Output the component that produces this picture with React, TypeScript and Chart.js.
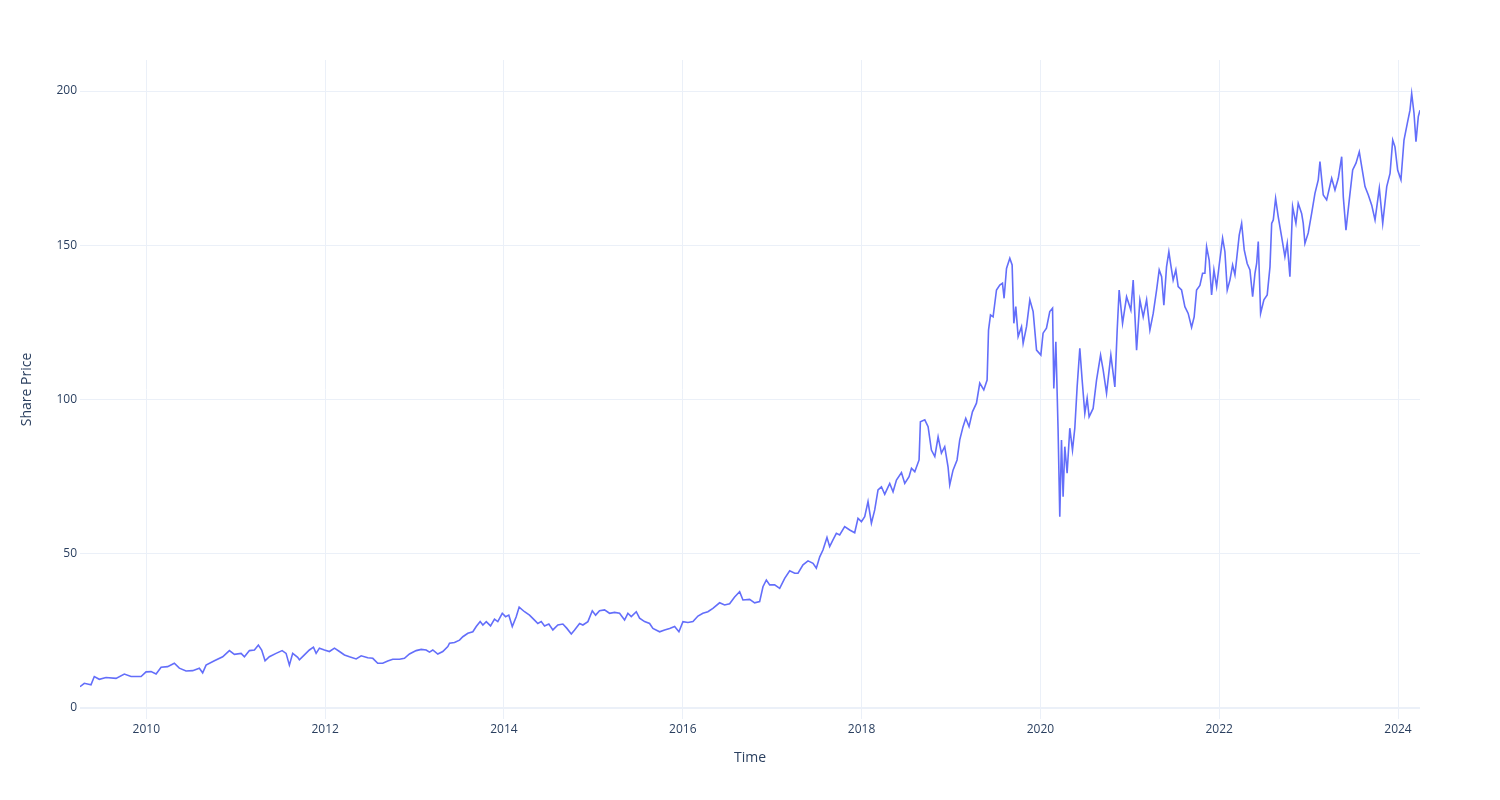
import React, { useEffect, useRef } from "react";
import { Chart, registerables } from "chart.js";

Chart.register(...registerables);

// Decimal-year positions of the sampled points
const dates: number[] = [
  2009.258, 2009.306, 2009.381, 2009.418, 2009.474, 2009.549, 2009.661, 2009.754, 2009.829, 2009.941,
  2009.997, 2010.053, 2010.109, 2010.165, 2010.238, 2010.313, 2010.369, 2010.444, 2010.518, 2010.593,
  2010.630, 2010.668, 2010.761, 2010.854, 2010.929, 2010.985, 2011.060, 2011.097, 2011.153, 2011.209,
  2011.253, 2011.290, 2011.328, 2011.376, 2011.451, 2011.519, 2011.563, 2011.600, 2011.637, 2011.693,
  2011.712, 2011.768, 2011.824, 2011.869, 2011.899, 2011.936, 2011.992, 2012.048, 2012.104, 2012.160,
  2012.216, 2012.272, 2012.347, 2012.403, 2012.477, 2012.533, 2012.588, 2012.644, 2012.700, 2012.756,
  2012.831, 2012.887, 2012.943, 2013.018, 2013.074, 2013.130, 2013.167, 2013.204, 2013.260, 2013.316,
  2013.372, 2013.391, 2013.447, 2013.503, 2013.540, 2013.596, 2013.652, 2013.690, 2013.734, 2013.764,
  2013.802, 2013.850, 2013.894, 2013.931, 2013.981, 2014.018, 2014.054, 2014.093, 2014.137, 2014.170,
  2014.230, 2014.286, 2014.342, 2014.379, 2014.417, 2014.454, 2014.502, 2014.547, 2014.603, 2014.659,
  2014.704, 2014.753, 2014.790, 2014.846, 2014.883, 2014.939, 2014.988, 2015.025, 2015.069, 2015.125,
  2015.181, 2015.237, 2015.293, 2015.349, 2015.386, 2015.424, 2015.480, 2015.517, 2015.573, 2015.629,
  2015.666, 2015.741, 2015.797, 2015.853, 2015.909, 2015.957, 2016.002, 2016.058, 2016.114, 2016.170,
  2016.225, 2016.281, 2016.337, 2016.412, 2016.468, 2016.524, 2016.580, 2016.636, 2016.673, 2016.748,
  2016.804, 2016.860, 2016.897, 2016.935, 2016.972, 2017.028, 2017.084, 2017.140, 2017.196, 2017.252,
  2017.289, 2017.345, 2017.401, 2017.457, 2017.494, 2017.532, 2017.568, 2017.613, 2017.643, 2017.680,
  2017.718, 2017.755, 2017.811, 2017.867, 2017.923, 2017.960, 2017.998, 2018.035, 2018.072, 2018.110,
  2018.147, 2018.184, 2018.222, 2018.259, 2018.315, 2018.352, 2018.390, 2018.446, 2018.483, 2018.531,
  2018.558, 2018.595, 2018.643, 2018.658, 2018.707, 2018.744, 2018.781, 2018.819, 2018.856, 2018.893,
  2018.930, 2018.967, 2018.986, 2019.023, 2019.068, 2019.098, 2019.135, 2019.165, 2019.202, 2019.240,
  2019.285, 2019.322, 2019.367, 2019.404, 2019.420, 2019.442, 2019.471, 2019.509, 2019.546, 2019.576,
  2019.594, 2019.621, 2019.658, 2019.684, 2019.703, 2019.725, 2019.751, 2019.789, 2019.807, 2019.845,
  2019.882, 2019.919, 2019.957, 2020.005, 2020.030, 2020.068, 2020.105, 2020.136, 2020.150, 2020.173,
  2020.198, 2020.217, 2020.236, 2020.254, 2020.273, 2020.299, 2020.329, 2020.359, 2020.385, 2020.411,
  2020.441, 2020.467, 2020.497, 2020.523, 2020.545, 2020.590, 2020.628, 2020.673, 2020.702, 2020.740,
  2020.788, 2020.833, 2020.859, 2020.881, 2020.919, 2020.964, 2021.012, 2021.038, 2021.076, 2021.113,
  2021.150, 2021.188, 2021.225, 2021.262, 2021.300, 2021.329, 2021.356, 2021.381, 2021.411, 2021.437,
  2021.456, 2021.485, 2021.515, 2021.541, 2021.579, 2021.616, 2021.653, 2021.691, 2021.720, 2021.747,
  2021.784, 2021.814, 2021.840, 2021.859, 2021.888, 2021.915, 2021.941, 2021.971, 2022.000, 2022.038,
  2022.064, 2022.090, 2022.120, 2022.150, 2022.176, 2022.224, 2022.251, 2022.280, 2022.313, 2022.344,
  2022.374, 2022.400, 2022.419, 2022.437, 2022.463, 2022.500, 2022.537, 2022.568, 2022.587, 2022.605,
  2022.631, 2022.660, 2022.698, 2022.735, 2022.761, 2022.791, 2022.821, 2022.858, 2022.884, 2022.922,
  2022.940, 2022.959, 2022.996, 2023.034, 2023.071, 2023.108, 2023.127, 2023.164, 2023.202, 2023.258,
  2023.295, 2023.332, 2023.370, 2023.388, 2023.418, 2023.455, 2023.493, 2023.530, 2023.567, 2023.594,
  2023.631, 2023.668, 2023.706, 2023.743, 2023.791, 2023.829, 2023.874, 2023.911, 2023.941, 2023.966,
  2023.996, 2024.033, 2024.067, 2024.104, 2024.134, 2024.153, 2024.179, 2024.201, 2024.227, 2024.246,
];

// Share price at each sampled point
const prices: number[] = [
  6.9, 8.0, 7.5, 10.2, 9.3, 9.9, 9.6, 11.0, 10.2, 10.2,
  11.7, 11.8, 11.0, 13.2, 13.4, 14.5, 12.9, 12.0, 12.1, 12.9,
  11.4, 13.9, 15.3, 16.6, 18.6, 17.4, 17.7, 16.6, 18.6, 18.8,
  20.4, 18.8, 15.3, 16.6, 17.7, 18.6, 17.7, 13.9, 17.7, 16.4,
  15.6, 17.2, 18.8, 19.7, 17.7, 19.4, 18.8, 18.3, 19.4, 18.3,
  17.2, 16.6, 15.9, 16.9, 16.3, 16.1, 14.5, 14.5, 15.2, 15.8,
  15.8, 16.1, 17.5, 18.6, 19.0, 18.8, 18.1, 18.8, 17.5, 18.3,
  19.9, 21.0, 21.2, 22.0, 23.1, 24.2, 24.7, 26.4, 28.0, 26.9,
  28.0, 26.6, 28.8, 28.0, 30.7, 29.6, 30.1, 26.4, 29.6, 32.7,
  31.2, 30.1, 28.5, 27.4, 28.0, 26.6, 27.2, 25.3, 26.9, 27.2,
  25.8, 24.0, 25.3, 27.4, 26.9, 28.0, 31.5, 30.1, 31.5, 31.8,
  30.7, 31.0, 30.7, 28.5, 30.7, 29.6, 31.2, 29.1, 28.0, 27.4,
  25.8, 24.7, 25.3, 25.8, 26.4, 24.7, 28.0, 27.7, 28.0, 29.8,
  30.7, 31.2, 32.3, 34.1, 33.4, 33.8, 36.0, 37.7, 35.0, 35.2,
  34.1, 34.5, 39.3, 41.5, 39.9, 39.9, 38.8, 42.0, 44.5, 43.7,
  43.7, 46.4, 47.7, 46.9, 45.3, 49.0, 51.2, 55.3, 52.3, 54.5,
  56.6, 56.1, 58.8, 57.7, 56.8, 61.5, 60.4, 62.0, 66.9, 59.9,
  64.2, 70.7, 71.7, 69.3, 72.8, 70.1, 73.9, 76.3, 72.8, 75.0,
  77.7, 76.6, 80.4, 92.8, 93.4, 91.2, 83.6, 81.5, 87.9, 82.6,
  84.7, 78.2, 72.3, 77.1, 80.4, 86.9, 91.2, 93.9, 91.2, 96.0,
  98.8, 105.3, 103.1, 106.3, 122.5, 127.4, 126.8, 135.5, 137.1, 137.7,
  132.8, 142.5, 145.8, 143.6, 124.7, 130.1, 120.4, 123.6, 118.2, 123.6,
  132.3, 128.5, 116.0, 114.4, 121.5, 123.1, 128.5, 129.6, 103.6, 118.7,
  90.1, 62.0, 86.9, 68.5, 84.7, 76.1, 90.7, 83.6, 90.7, 104.1,
  116.6, 106.3, 95.5, 100.4, 94.4, 97.1, 106.3, 114.4, 109.6, 102.0,
  114.4, 104.1, 122.5, 135.5, 124.7, 133.3, 129.0, 138.7, 116.0, 132.3,
  126.8, 132.3, 122.5, 127.9, 135.5, 142.0, 139.8, 130.6, 143.0, 147.9,
  144.1, 138.7, 142.0, 136.6, 135.5, 130.1, 127.9, 123.4, 126.8, 135.5,
  137.0, 140.9, 140.9, 149.5, 145.2, 133.9, 142.0, 136.6, 143.6, 152.3,
  147.9, 135.5, 138.7, 143.6, 140.4, 153.3, 157.1, 148.5, 144.1, 142.0,
  133.3, 140.9, 144.1, 151.2, 127.9, 132.3, 133.9, 143.0, 157.1, 158.2,
  165.2, 159.3, 152.8, 146.3, 150.6, 139.8, 162.5, 157.1, 163.6, 160.3,
  157.1, 150.6, 154.0, 160.3, 166.8, 171.2, 177.1, 166.3, 164.7, 171.7,
  167.9, 171.7, 178.7, 165.7, 154.9, 164.7, 174.4, 176.6, 180.3, 175.5,
  169.0, 166.3, 163.0, 158.2, 168.5, 157.1, 169.0, 173.3, 184.1, 181.9,
  174.4, 171.2, 184.1, 189.5, 193.8, 199.2, 192.8, 183.6, 191.7, 193.8,
];

const xTicks: number[] = [2010, 2012, 2014, 2016, 2018, 2020, 2022, 2024];
const yTicks: number[] = [0, 50, 100, 150, 200];

const FONT = '"Open Sans", verdana, arial, sans-serif';
const TEXT = "#2a3f5f";
const GRID = "#ebf0f8";

export default function App() {
  const ref = useRef<HTMLCanvasElement | null>(null);

  useEffect(() => {
    if (!ref.current) return;
    const points = dates.map((d, i) => ({ x: d, y: prices[i] }));
    const chart = new Chart(ref.current, {
      type: "line",
      data: {
        datasets: [
          {
            label: "Share Price",
            data: points,
            borderColor: "#636efa",
            backgroundColor: "#636efa",
            borderWidth: 1.6,
            pointRadius: 0,
            tension: 0,
            fill: false,
          },
        ],
      },
      options: {
        animation: false,
        responsive: false,
        maintainAspectRatio: false,
        layout: { padding: { top: 60, right: 80, left: 0, bottom: 0 } },
        plugins: { legend: { display: false }, tooltip: { enabled: false } },
        scales: {
          x: {
            type: "linear",
            min: 2009.258,
            max: 2024.246,
            border: { display: false },
            grid: { color: GRID, lineWidth: 1, drawTicks: false },
            ticks: {
              padding: 3,
              color: TEXT,
              font: { family: FONT, size: 12 },
              maxRotation: 0,
              callback: (v: any) => String(v),
            },
            title: {
              display: true,
              text: "Time",
              color: TEXT,
              font: { family: FONT, size: 14 },
              padding: { top: 0, bottom: 34 },
            },
            afterBuildTicks: (s: any) => {
              s.ticks = xTicks.map((v) => ({ value: v }));
            },
            afterFit: (s: any) => {
              s.height = 81;
            },
          },
          y: {
            type: "linear",
            min: -3.57,
            max: 210.05,
            border: { display: false },
            grid: {
              color: GRID,
              drawTicks: false,
              lineWidth: (c: any) => (c.tick && c.tick.value === 0 ? 2 : 1),
            },
            ticks: {
              padding: 3,
              color: TEXT,
              font: { family: FONT, size: 12 },
              callback: (v: any) => String(v),
            },
            title: {
              display: true,
              text: "Share Price",
              color: TEXT,
              font: { family: FONT, size: 14 },
              padding: { top: 19, bottom: 0 },
            },
            afterBuildTicks: (s: any) => {
              s.ticks = yTicks.map((v) => ({ value: v }));
            },
            afterFit: (s: any) => {
              s.width = 80;
            },
          },
        },
      },
    });
    return () => chart.destroy();
  }, []);

  return (
    <div style={{ position: "absolute", left: 0, top: 0, width: 1500, height: 800, background: "#fff" }}>
      <canvas ref={ref} width={1500} height={800} style={{ width: 1500, height: 800 }} />
    </div>
  );
}
